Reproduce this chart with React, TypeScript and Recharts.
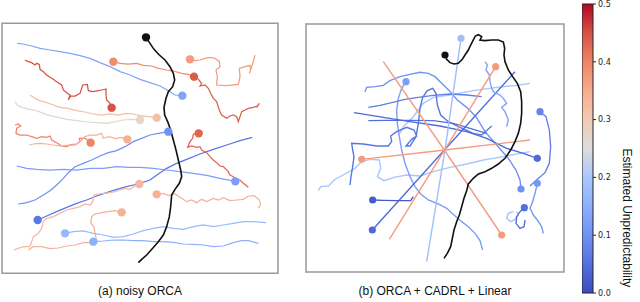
import React from "react"
import { ComposedChart, Scatter, XAxis, YAxis, ReferenceArea, BarChart, Bar } from "recharts"

type Pt = [number, number]

// ---- panel (a): noisy ORCA (units: 1/3 px, origin at panel corner) ----
const aBlack: Pt[] = [[438,52],[450,70],[462,88],[478,105],[495,120],[510,140],[520,160],[524,180],[518,200],[505,215],[498,235],[492,262],[494,285],[503,305],[512,330],[520,360],[528,390],[535,420],[542,450],[545,470],[538,490],[525,508],[515,525],[512,560],[508,590],[500,620],[490,645],[475,665],[458,685],[440,705],[425,718],[415,728]]
const aBlue1: Pt[] = [[52,70],[70,72],[95,78],[120,85],[150,90],[180,95],[210,100],[240,107],[270,115],[300,128],[330,140],[360,155],[390,165],[420,178],[450,188],[480,198],[505,212],[525,225],[547,227]]
const aRed1: Pt[] = [[75,120],[85,125],[95,128],[105,135],[110,130],[118,133],[120,148],[130,155],[140,165],[150,172],[160,178],[170,185],[185,195],[190,210],[200,218],[210,225],[205,240],[212,228],[225,228],[240,220],[245,205],[248,195],[262,193],[265,212],[278,215],[295,212],[305,210],[318,207],[318,225],[320,240],[330,250],[335,263]]
const aOrange1: Pt[] = [[340,125],[360,130],[385,132],[410,130],[430,136],[455,138],[475,145],[500,150],[520,153],[545,160],[565,163],[582,170]]
const aRed2: Pt[] = [[582,170],[595,178],[605,190],[600,198],[615,195],[625,205],[632,220],[640,235],[650,245],[655,262],[660,275],[665,285],[680,295],[690,288],[700,285],[710,290],[715,305],[720,290],[725,275],[735,270],[745,265],[760,262],[772,258],[778,250],[770,262]]
const aOrange2: Pt[] = [[570,118],[585,122],[600,120],[615,115],[630,112],[645,115],[658,125],[660,140],[648,150],[652,170],[650,195],[680,197],[715,193],[720,170],[718,145],[735,140],[750,136],[752,150],[748,160],[755,140],[760,125],[765,105]]
const aPale1: Pt[] = [[45,245],[52,255],[65,262],[90,268],[110,272],[130,280],[150,287],[175,292],[200,298],[230,302],[260,306],[290,308],[320,310],[345,305],[370,300],[395,298],[420,300]]
const aPale2: Pt[] = [[90,225],[105,235],[120,242],[140,248],[160,255],[180,262],[205,265],[230,272],[255,276],[280,282],[305,285],[330,282],[355,285],[380,280],[400,282],[420,287],[445,290],[470,293]]
const aOrange3: Pt[] = [[45,315],[55,312],[62,318],[50,325],[48,340],[60,345],[80,345],[95,350],[110,355],[125,350],[140,352],[150,348],[155,360],[170,368],[185,378],[200,380],[215,373],[230,372],[240,365],[238,355],[255,355],[265,362],[272,368]]
const aPeach1: Pt[] = [[382,358],[365,352],[345,356],[328,350],[310,355],[305,340],[290,345],[270,345],[255,350],[245,360],[225,375],[205,375],[185,378],[160,375],[140,372],[120,370],[100,372],[88,375]]
const aBlue2: Pt[] = [[55,552],[80,548],[105,540],[130,525],[150,512],[170,495],[190,475],[205,458],[225,440],[250,430],[275,420],[300,408],[325,398],[350,392],[375,380],[400,365],[425,355],[450,345],[475,340],[505,335]]
const aBlue3: Pt[] = [[50,438],[80,445],[110,448],[150,450],[190,448],[230,450],[270,445],[310,445],[350,440],[385,442],[420,442],[460,445],[500,450],[540,455],[580,460],[620,466],[660,475],[706,484]]
const aBlue4: Pt[] = [[113,600],[140,588],[170,575],[200,562],[230,550],[260,540],[290,528],[320,518],[350,508],[380,500],[400,495],[420,490],[450,480],[475,462],[500,445],[530,430],[560,418],[600,402],[640,388],[680,375],[720,362],[757,352]]
const aRed3: Pt[] = [[596,340],[580,343],[578,355],[570,365],[563,382],[575,378],[590,382],[600,380],[605,390],[620,398],[630,410],[640,420],[650,428],[660,438],[670,440],[685,455],[690,465],[700,470],[710,478],[720,480],[730,490],[745,502]]
const aPeach2: Pt[] = [[470,523],[490,520],[505,527],[525,522],[545,535],[560,545],[575,540],[590,548],[605,538],[620,545],[640,535],[655,540],[670,533],[690,542],[710,540],[730,538],[745,528],[762,527],[778,540],[782,553],[775,565]]
const aPeach3: Pt[] = [[418,492],[405,498],[390,508],[375,505],[360,510],[345,515],[330,518],[310,520],[295,522],[282,525],[278,545],[270,555],[255,552],[240,560],[220,565],[200,570],[180,580],[160,590],[140,595],[130,605],[125,625],[115,640],[100,650],[95,665],[90,680],[70,680],[55,685],[42,690]]
const aPeach4: Pt[] = [[365,577],[345,572],[325,575],[305,578],[285,582],[275,590],[272,608],[282,622],[285,640],[290,662],[275,668],[250,668],[225,675],[200,678],[175,684],[150,686],[125,680],[100,680],[85,690]]
const aLight1: Pt[] = [[195,640],[220,635],[250,633],[280,640],[310,645],[340,652],[370,650],[400,642],[430,632],[460,625],[490,620],[520,625],[550,628],[580,620],[610,615],[640,620],[670,615],[700,610],[730,605],[760,605],[798,608]]
const aLight2: Pt[] = [[280,665],[310,663],[340,660],[370,660],[400,662],[430,662],[460,665],[490,665],[520,667],[550,672],[580,673],[610,675],[640,680],[670,678],[700,668],[725,662],[745,662],[775,670]]

// ---- panel (b): ORCA + CADRL + Linear ----
const bBlack: Pt[] = [[435,105],[440,118],[450,128],[462,132],[475,130],[487,118],[495,105],[505,90],[512,75],[520,60],[526,48],[535,44],[545,50],[540,60],[555,62],[575,60],[595,60],[610,66],[614,85],[612,105],[615,125],[625,150],[638,170],[652,190],[662,215],[665,245],[665,280],[662,310],[655,340],[645,365],[632,390],[615,415],[595,432],[575,445],[555,455],[535,462],[520,475],[505,492],[500,512],[492,535],[485,560],[478,585],[470,605],[462,630],[457,655],[452,680],[442,700],[432,715]]
const bOrange1: Pt[] = [[250,125],[435,393],[605,645]]
const bOrange2: Pt[] = [[587,140],[435,388],[268,658]]
const bOrange3: Pt[] = [[185,418],[435,390],[690,360]]
const bLight1: Pt[] = [[483,55],[435,390],[380,725]]
const bBlue1: Pt[] = [[217,630],[645,155]]
const bBlue2: Pt[] = [[162,278],[250,292],[330,305],[420,318],[500,335],[560,355],[620,385],[670,400],[712,415]]
const bBlue3: Pt[] = [[205,302],[260,301],[320,301],[400,302],[460,310],[520,328],[560,340]]
const bBlue4: Pt[] = [[150,495],[153,470],[158,440],[162,410],[158,390],[155,370],[190,372],[230,378],[265,378],[275,365],[272,348],[290,335],[320,322],[342,330],[350,348],[335,358],[318,378],[330,378],[348,350],[355,310],[360,265],[368,232],[382,212],[398,205],[408,220],[412,255],[422,285],[445,305],[480,322],[520,340],[545,345],[575,318]]
const bBlue5: Pt[] = [[195,215],[200,202],[225,200],[250,196],[270,182],[300,170],[330,163],[360,157],[385,160],[405,170],[425,190],[448,212],[472,240],[500,262],[528,290],[555,335],[590,375],[625,415],[648,450],[660,480],[663,507]]
const bBlue6: Pt[] = [[318,185],[305,205],[295,235],[290,270],[292,310],[298,350],[305,390],[315,430],[330,470],[345,500],[362,522],[385,540],[415,552],[440,565],[462,585],[485,605],[505,620],[525,640],[540,662],[548,690]]
const bBlue7: Pt[] = [[205,262],[240,256],[275,248],[315,238],[355,232],[400,226],[450,222],[500,225],[545,230]]
const bPale1: Pt[] = [[300,340],[310,320],[340,290],[370,250],[400,232],[450,225],[520,212],[590,202],[650,196],[690,190]]
const bPale2: Pt[] = [[55,512],[62,500],[85,498],[105,478],[135,462],[165,445],[185,425],[210,418],[238,420],[242,445],[232,470],[252,482],[282,472],[320,465],[360,468],[400,455],[450,442],[500,432],[550,420],[610,410],[660,400],[690,395]]
const bBlue8: Pt[] = [[218,540],[250,541],[290,542],[332,542],[340,530]]
const bBlue9: Pt[] = [[720,275],[738,290],[748,330],[752,380],[748,430],[735,458],[712,478],[690,498]]
const bBlue10: Pt[] = [[712,490],[705,520],[698,545],[690,565],[700,585],[712,600],[725,620],[730,640]]
const bBlue11: Pt[] = [[673,563],[660,575],[650,590],[648,610],[660,625],[672,620],[675,600]]
const bPale3: Pt[] = [[640,575],[625,580],[620,595],[632,605],[645,598],[655,585],[650,575]]
const bBlue12: Pt[] = [[555,125],[562,135],[558,150],[568,165],[570,185],[575,205],[580,215],[600,225],[610,235],[620,250],[605,262],[615,275],[625,300],[620,320]]

// estimated unpredictability of each track, and where its dot sits
const panelA = [
  { pts: aBlue1, v: 0.13, dot: "end" }, { pts: aRed1, v: 0.45, dot: "end" },
  { pts: aOrange1, v: 0.39, dot: "start" }, { pts: aOrange2, v: 0.37, dot: "start" },
  { pts: aRed2, v: 0.44, dot: "start" }, { pts: aPale1, v: 0.27, dot: "end" },
  { pts: aPale2, v: 0.32, dot: "end" }, { pts: aOrange3, v: 0.4, dot: "end" },
  { pts: aPeach1, v: 0.34, dot: "start" }, { pts: aBlue2, v: 0.1, dot: "end" },
  { pts: aBlue3, v: 0.12, dot: "end" }, { pts: aBlue4, v: 0.06, dot: "start" },
  { pts: aRed3, v: 0.43, dot: "start" }, { pts: aPeach2, v: 0.34, dot: "start" },
  { pts: aPeach3, v: 0.33, dot: "start" }, { pts: aPeach4, v: 0.34, dot: "start" },
  { pts: aLight1, v: 0.17, dot: "start" }, { pts: aLight2, v: 0.15, dot: "start" },
]
const panelB = [
  { pts: bPale2, v: 0.2, dot: "none" }, { pts: bPale1, v: 0.2, dot: "none" },
  { pts: bPale3, v: 0.19, dot: "none" }, { pts: bBlue6, v: 0.12, dot: "start" },
  { pts: bBlue7, v: 0.07, dot: "none" }, { pts: bBlue5, v: 0.1, dot: "end" },
  { pts: bBlue4, v: 0.06, dot: "none" }, { pts: bBlue3, v: 0.05, dot: "none" },
  { pts: bBlue2, v: 0.04, dot: "end" }, { pts: bBlue1, v: 0.04, dot: "start" },
  { pts: bBlue8, v: 0.02, dot: "start" }, { pts: bBlue9, v: 0.08, dot: "start" },
  { pts: bBlue10, v: 0.11, dot: "start" }, { pts: bBlue11, v: 0.05, dot: "start" },
  { pts: bBlue12, v: 0.13, dot: "none" }, { pts: bLight1, v: 0.18, dot: "start" },
  { pts: bOrange1, v: 0.37, dot: "end" }, { pts: bOrange2, v: 0.37, dot: "start" },
  { pts: bOrange3, v: 0.37, dot: "start" },
]

const cbarTicks = [0, 0.1, 0.2, 0.3, 0.4, 0.5]
const cbarData = [{ name: "cbar", v: 0.5 }]

// matplotlib coolwarm, sampled
const coolwarm = ["#3b4cc0", "#5470de", "#6f92f3", "#8db0fe", "#aac7fd", "#dddcdc", "#f2cbb7", "#f7ac8e", "#ee8468", "#d65244", "#b40426"]

const hex = (c: string) => [1, 3, 5].map((i) => parseInt(c.slice(i, i + 2), 16))
const colorOf = (v: number) => {
  const t = Math.max(0, Math.min(1, v / 0.5)) * (coolwarm.length - 1)
  const i = Math.min(coolwarm.length - 2, Math.floor(t))
  const f = t - i
  const a = hex(coolwarm[i]), b = hex(coolwarm[i + 1])
  const m = a.map((x, k) => Math.round(x + (b[k] - x) * f))
  return `rgb(${m[0]},${m[1]},${m[2]})`
}

const toXY = (pts: Pt[]) => pts.map(([x, y]) => ({ x, y }))
const noShape = () => <g />

function Panel({ tracks, black, box, width, dotR, lw }: any) {
  return (
    <ComposedChart width={width} height={260} margin={{ top: 0, right: 0, bottom: 0, left: 0 }}>
      <XAxis type="number" dataKey="x" domain={[0, width * 3]} hide />
      <YAxis type="number" dataKey="y" domain={[0, 780]} reversed hide />
      <ReferenceArea x1={box[0]} x2={box[1]} y1={box[2]} y2={box[3]} fill="#fff" fillOpacity={1} stroke="#999" strokeWidth={1.5} ifOverflow="visible" />
      {tracks.map((t: any, i: number) => (
        <Scatter key={"t" + i} data={toXY(t.pts)} fill={colorOf(t.v)} line={{ stroke: colorOf(t.v), strokeWidth: lw }} shape={noShape} isAnimationActive={false} />
      ))}
      <Scatter data={toXY(black)} fill="#111" line={{ stroke: "#111", strokeWidth: 1.6 }} shape={noShape} isAnimationActive={false} />
      {tracks.filter((t: any) => t.dot !== "none").map((t: any, i: number) => {
        const p = t.dot === "start" ? t.pts[0] : t.pts[t.pts.length - 1]
        const c = colorOf(t.v)
        return (
          <Scatter key={"d" + i} data={toXY([p])} isAnimationActive={false}
            shape={(s: any) => <circle cx={s.cx} cy={s.cy} r={dotR} fill={c} />} />
        )
      })}
      <Scatter data={toXY([black[0]])} isAnimationActive={false}
        shape={(s: any) => <circle cx={s.cx} cy={s.cy} r={dotR} fill="#111" />} />
    </ComposedChart>
  )
}

export default function App() {
  const font = "'Liberation Sans', Arial, sans-serif"
  return (
    <div style={{ position: "absolute", left: 0, top: 0, width: 640, height: 302, background: "#fff", fontFamily: font }}>
      <svg width={0} height={0} style={{ position: "absolute" }}>
        <defs>
          <linearGradient id="cbar" x1="0" y1="1" x2="0" y2="0">
            {coolwarm.map((c, i) => (
              <stop key={i} offset={i / (coolwarm.length - 1)} stopColor={c} />
            ))}
          </linearGradient>
        </defs>
      </svg>

      <div style={{ position: "absolute", left: 0, top: 20 }}>
        <Panel tracks={panelA} black={aBlack} box={[6, 834, 10, 760]} width={280} dotR={4.2} lw={1.25} />
      </div>
      <div style={{ position: "absolute", left: 300, top: 20 }}>
        <Panel tracks={panelB} black={bBlack} box={[18, 792, 12, 756]} width={270} dotR={3.6} lw={1.4} />
      </div>

      <div style={{ position: "absolute", left: 582, top: 0 }}>
        <BarChart width={58} height={302} data={cbarData} margin={{ top: 4, right: 27, bottom: 9, left: 0 }} barCategoryGap={0}>
          <XAxis dataKey="name" hide />
          <YAxis orientation="right" width={20} domain={[0, 0.5]} ticks={cbarTicks} tickSize={3}
            tickFormatter={(v: number) => v.toFixed(1)} axisLine={false} stroke="#222"
            tick={{ fontSize: 8, fill: "#222", fontFamily: "'DejaVu Sans'" }}
            label={{ value: "Estimated Unpredictability", angle: 90, position: "right", offset: 14, fontSize: 12, fill: "#111", fontFamily: font }} />
          <Bar dataKey="v" fill="url(#cbar)" stroke="#222" strokeWidth={1} isAnimationActive={false} />
        </BarChart>
      </div>

      <div style={{ position: "absolute", left: 0, width: 280, top: 284, textAlign: "center", fontSize: 12, color: "#111" }}>(a) noisy ORCA</div>
      <div style={{ position: "absolute", left: 306, width: 258, top: 284, textAlign: "center", fontSize: 12, color: "#111" }}>(b) ORCA + CADRL + Linear</div>
    </div>
  )
}
